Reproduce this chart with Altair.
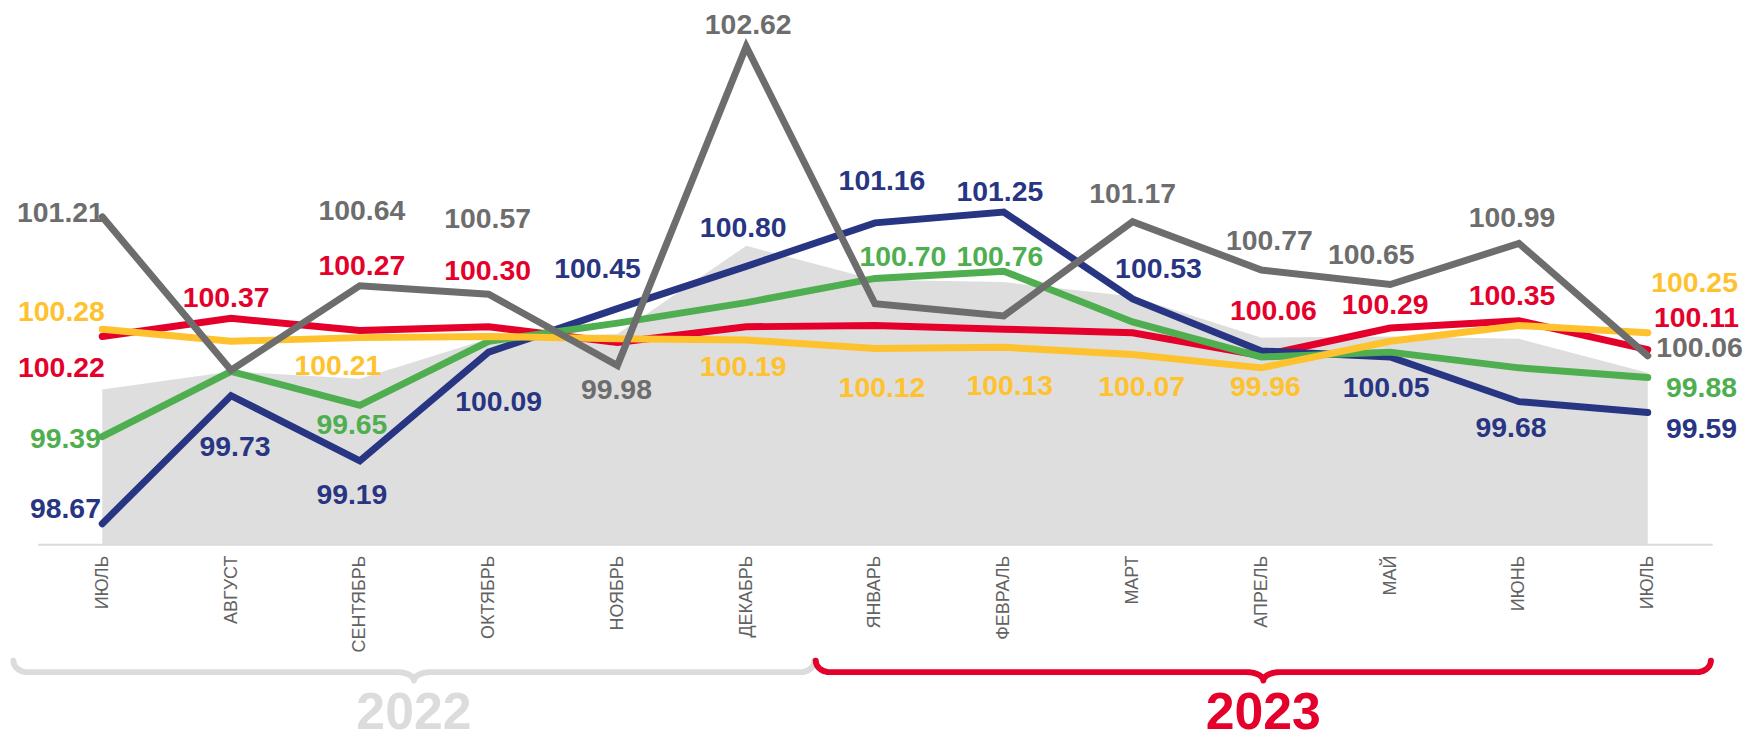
import json
import numpy as np
import pandas as pd
import altair as alt

# ---------------- data ----------------
MONTHS = ["ИЮЛЬ", "АВГУСТ", "СЕНТЯБРЬ", "ОКТЯБРЬ", "НОЯБРЬ", "ДЕКАБРЬ",
          "ЯНВАРЬ", "ФЕВРАЛЬ", "МАРТ", "АПРЕЛЬ", "МАЙ", "ИЮНЬ", "ИЮЛЬ"]
YEARS = ["2022", "2023"]
YEAR_MONTHS = [(0, 5), (6, 12)]  # month index range covered by each year

BACKGROUND = [99.78, 99.93, 99.87, 100.20, 100.24, 100.97, 100.69, 100.67, 100.55, 100.21, 100.22, 100.20, 99.92]
RED = [100.22, 100.37, 100.27, 100.30, 100.17, 100.30, 100.31, 100.28, 100.25, 100.06, 100.29, 100.35, 100.11]
BLUE = [98.67, 99.73, 99.19, 100.09, 100.45, 100.80, 101.16, 101.25, 100.53, 100.10, 100.05, 99.68, 99.59]
GREEN = [99.39, 99.93, 99.65, 100.18, 100.33, 100.50, 100.70, 100.76, 100.34, 100.05, 100.09, 99.96, 99.88]
YELLOW = [100.28, 100.18, 100.21, 100.22, 100.20, 100.19, 100.12, 100.13, 100.07, 99.96, 100.18, 100.31, 100.25]
GRAY = [101.21, 99.94, 100.64, 100.57, 99.98, 102.62, 100.49, 100.39, 101.17, 100.77, 100.65, 100.99, 100.06]

SERIES = {"red": RED, "blue": BLUE, "green": GREEN, "yellow": YELLOW, "gray": GRAY}

# ---------------- styles / layout ----------------
COLORS = {"red": "#e4002b", "blue": "#283582", "green": "#4fae4f",
          "yellow": "#fec22e", "gray": "#6d6d6d"}
YEAR_COLORS = ["#dcdcdc", "#e4002b"]
AREA_COLOR = "#dedede"
AXIS_COLOR = "#d9d9d9"
LABEL_GRAY = "#626262"
FONT = "Liberation Sans"

W, H = 1682, 534
PAD = {"left": 30, "top": 3, "right": 36, "bottom": 197}
X_DOMAIN = [-0.5, 12.5]
Y_DOMAIN = [98.5, 102.9]
PX_X = W / (X_DOMAIN[1] - X_DOMAIN[0])
PX_Y = H / (Y_DOMAIN[1] - Y_DOMAIN[0])

# label placement: pixel offset of the value label's centre from its point (None = no label)
LABEL_OFFSETS = {
    "gray":   [(-42, -4), None, (2, -75), (-1, -75), (-1, 25), (2, -22), None, None,
               (0, -28), (8, -29), (-19, -30), (-7, -25), (52, -8)],
    "yellow": [(-41, -17), None, (-22, 29), None, None, (-3, 27), (7, 40), (6, 39),
               (9, 33), (4, 19), None, None, (47, -50)],
    "red":    [(-41, 32), (-5, -20), (2, -65), (-1, -56), None, None, None, None,
               None, (12, -45), (-5, -23), (-7, -25), (49, -32)],
    "green":  [(-37, 2), None, (-8, 20), None, None, None, (28, -21), (-4, -14),
               None, None, None, None, (54, 11)],
    "blue":   [(-37, -15), (4, 52), (-8, 34), (10, 50), (-20, -40), (-3, -38), (7, -42), (-4, -20),
               (26, -30), None, (-4, 31), (-8, 26), (54, 17)],
}
DRAW_ORDER = ["red", "blue", "green", "yellow", "gray"]

# brace geometry (pixels, plot coords)
BRACE_SPAN_PAD = [(0.69, 0.53), (0.46, 0.49)]  # extension beyond first/last month (in month units)
BRACE_Y = 662.5
END_RX, END_RY = 14, 11.5
TIP_RX, TIP_RY = 17, 8.5
YEAR_TEXT_Y = 720

idx = list(range(len(MONTHS)))

x_scale = alt.Scale(domain=X_DOMAIN, nice=False, zero=False)
y_scale = alt.Scale(domain=Y_DOMAIN, nice=False, zero=False)

label_expr = json.dumps(MONTHS, ensure_ascii=False) + "[datum.value]"
x_axis = alt.Axis(values=idx, labelExpr=label_expr, labelAngle=270, labelAlign="right",
                  labelBaseline="middle", labelFont=FONT, labelFontSize=18,
                  labelColor=LABEL_GRAY, labelPadding=11, ticks=False, tickSize=0,
                  grid=False, domainColor=AXIS_COLOR, domainWidth=2, title=None,
                  labelOverlap=False)

# background area
area_df = pd.DataFrame({"i": idx, "v": BACKGROUND})
area = alt.Chart(area_df).mark_area(color=AREA_COLOR, clip=False).encode(
    x=alt.X("i:Q", scale=x_scale, axis=x_axis),
    y=alt.Y("v:Q", scale=y_scale, axis=None),
    y2=alt.datum(Y_DOMAIN[0]),
)

layers = [area]
for name in DRAW_ORDER:
    df = pd.DataFrame({"i": idx, "v": SERIES[name]})
    layers.append(
        alt.Chart(df).mark_line(color=COLORS[name], strokeWidth=7, strokeCap="round",
                                clip=False).encode(
            x=alt.X("i:Q", scale=x_scale),
            y=alt.Y("v:Q", scale=y_scale),
        )
    )

# value labels
rows = []
for name in DRAW_ORDER:
    for i, (v, off) in enumerate(zip(SERIES[name], LABEL_OFFSETS[name])):
        if off is None:
            continue
        dx, dy = off
        rows.append({"lx": i + dx / PX_X, "ly": v - dy / PX_Y,
                     "t": f"{v:.2f}", "c": COLORS[name]})
lab_df = pd.DataFrame(rows)
labels = alt.Chart(lab_df).mark_text(font=FONT, fontSize=28.5, fontWeight="bold",
                                     align="center", baseline="middle", clip=False).encode(
    x=alt.X("lx:Q", scale=x_scale),
    y=alt.Y("ly:Q", scale=y_scale),
    text="t:N",
    color=alt.Color("c:N", scale=None),
)
layers.append(labels)


# braces
def brace(x0, x1):
    c = (x0 + x1) / 2
    erx, trx = END_RX / PX_X, TIP_RX / PX_X
    pts = []
    th = np.linspace(np.pi, np.pi / 2, 10)
    pts += [(x0 + erx + erx * np.cos(t), BRACE_Y - END_RY + END_RY * np.sin(t)) for t in th]
    th = np.linspace(-np.pi / 2, 0, 10)
    pts += [(c - trx + trx * np.cos(t), BRACE_Y + TIP_RY + TIP_RY * np.sin(t)) for t in th]
    th = np.linspace(np.pi, 1.5 * np.pi, 10)
    pts += [(c + trx + trx * np.cos(t), BRACE_Y + TIP_RY + TIP_RY * np.sin(t)) for t in th]
    th = np.linspace(np.pi / 2, 0, 10)
    pts += [(x1 - erx + erx * np.cos(t), BRACE_Y - END_RY + END_RY * np.sin(t)) for t in th]
    return pts, c


year_rows = []
for k, (yr, (m0, m1), (p0, p1), col) in enumerate(zip(YEARS, YEAR_MONTHS, BRACE_SPAN_PAD, YEAR_COLORS)):
    pts, c = brace(m0 - p0, m1 + p1)
    bdf = pd.DataFrame({"bx": [p[0] for p in pts], "by": [p[1] for p in pts],
                        "o": list(range(len(pts)))})
    layers.append(
        alt.Chart(bdf).mark_line(color=col, strokeWidth=6, strokeCap="round",
                                 strokeJoin="round", clip=False).encode(
            x=alt.X("bx:Q", scale=x_scale),
            y=alt.Y("by:Q", scale=None),
            order=alt.Order("o:Q"),
        )
    )
    year_rows.append({"yx": c, "t": yr, "c": col})

year_df = pd.DataFrame(year_rows)
layers.append(
    alt.Chart(year_df).mark_text(font=FONT, fontSize=52, fontWeight="bold", align="center",
                                 baseline="alphabetic", clip=False).encode(
        x=alt.X("yx:Q", scale=x_scale),
        y=alt.value(YEAR_TEXT_Y),
        text="t:N",
        color=alt.Color("c:N", scale=None),
    )
)

chart = alt.layer(*layers).properties(
    width=W, height=H, padding=PAD,
    autosize=alt.AutoSizeParams(type="none"),
    background="white",
).configure_view(stroke=None)

chart.save("out.html", embed_options={"renderer": "svg", "actions": False})
